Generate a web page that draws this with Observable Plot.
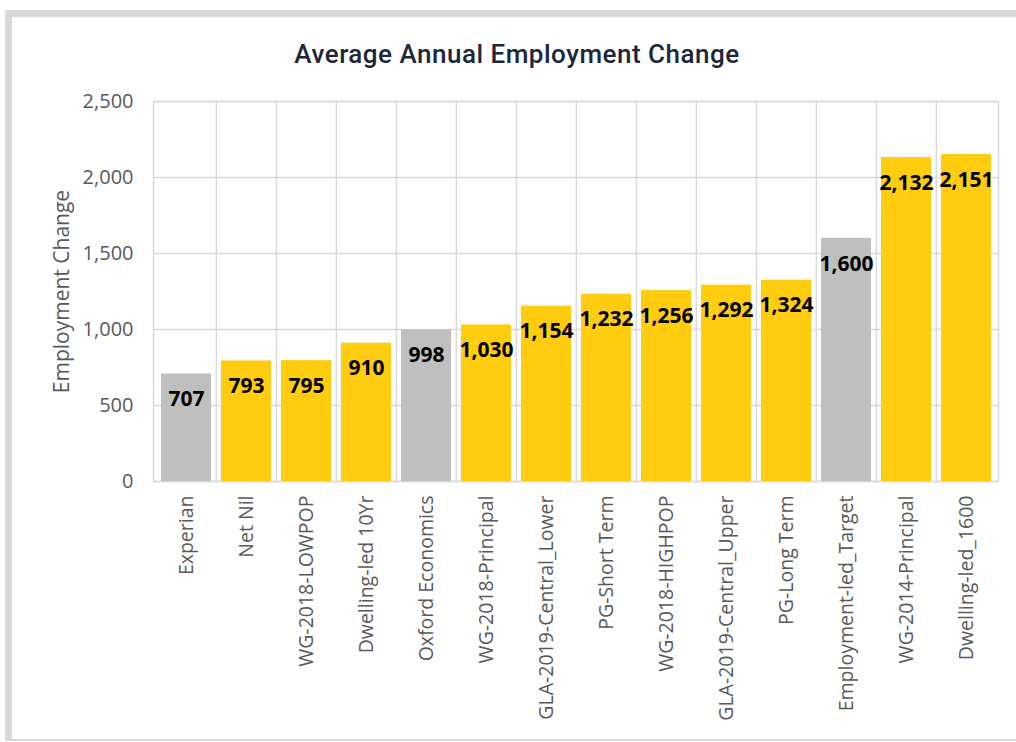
<!DOCTYPE html>
<html>
<head>
<meta charset="utf-8">
<script src="https://cdn.jsdelivr.net/npm/d3@7"></script>
<script src="https://cdn.jsdelivr.net/npm/@observablehq/plot@0.6"></script>
<style>
  html, body { margin: 0; padding: 0; background: #fff; }
  #wrap { position: relative; width: 1016px; height: 742px; overflow: hidden; }
  #frame { position: absolute; left: 5px; top: 10px; width: 1100px; height: 722px;
           border-left: 7px solid #d9d9d9; border-top: 7px solid #d9d9d9; border-bottom: 2px solid #d9d9d9; }
  #title { position: absolute; left: 517px; top: 39px; transform: translateX(-50%); white-space: nowrap;
           font-family: Roboto, "Noto Sans", sans-serif; font-weight: 500; font-size: 26px; color: #1e2739;
           letter-spacing: 0.5px; line-height: 30px; }
  #chart { position: absolute; left: 0; top: 0; }
</style>
</head>
<body>
<div id="wrap">
  <div id="frame"></div>
  <div id="chart"></div>
  <div id="title">Average Annual Employment Change</div>
</div>
<script>
const categories = ["Experian","Net Nil","WG-2018-LOWPOP","Dwelling-led 10Yr","Oxford Economics","WG-2018-Principal","GLA-2019-Central_Lower","PG-Short Term","WG-2018-HIGHPOP","GLA-2019-Central_Upper","PG-Long Term","Employment-led_Target","WG-2014-Principal","Dwelling-led_1600"];
const values = [707,793,795,910,998,1030,1154,1232,1256,1292,1324,1600,2132,2151];
const groups = ["Other","Scenario","Scenario","Scenario","Other","Scenario","Scenario","Scenario","Scenario","Scenario","Scenario","Other","Scenario","Scenario"];
const yTicks = [0,500,1000,1500,2000,2500];

const data = categories.map((c, i) => ({name: c, value: values[i], group: groups[i]}));
const fmt = d3.format(",");
const step = (998 - 153) / categories.length;

const chart = Plot.plot({
  width: 1016,
  height: 742,
  marginLeft: 153,
  marginRight: 18,
  marginTop: 101,
  marginBottom: 261,
  style: {fontFamily: "'Open Sans', sans-serif", background: "transparent"},
  x: {domain: categories, paddingInner: 0.172, paddingOuter: 0.086},
  y: {domain: [0, 2500]},
  color: {domain: ["Other","Scenario"], range: ["#bfbfbf","#ffcc0f"]},
  marks: [
    Plot.ruleY(yTicks, {y: d => d, stroke: "#d9d9d9", strokeWidth: 1.5}),
    Plot.ruleX(categories.slice(1), {x: d => d, dx: -step / 2, stroke: "#d9d9d9", strokeWidth: 1.5}),
    Plot.frame({stroke: "#d9d9d9", strokeWidth: 1.5}),
    Plot.barY(data, {x: "name", y: "value", fill: "group"}),
    Plot.text(data, {x: "name", y: "value", text: d => fmt(d.value), dy: 25.5, lineAnchor: "middle",
      fontSize: 21, fontWeight: "bold", fill: "#000"}),
    Plot.axisY({ticks: yTicks, tickSize: 0, tickPadding: 20, tickFormat: fmt, fontSize: 20, fill: "#595959", label: null}),
    Plot.axisX({tickRotate: -90, tickSize: 0, tickPadding: 14, fontSize: 19.5, fill: "#595959", label: null}),
    Plot.text(["Employment Change"], {frameAnchor: "left", dx: -91, rotate: -90, textAnchor: "middle", fontSize: 21, fill: "#595959"})
  ]
});
document.getElementById("chart").appendChild(chart);
</script>
</body>
</html>
